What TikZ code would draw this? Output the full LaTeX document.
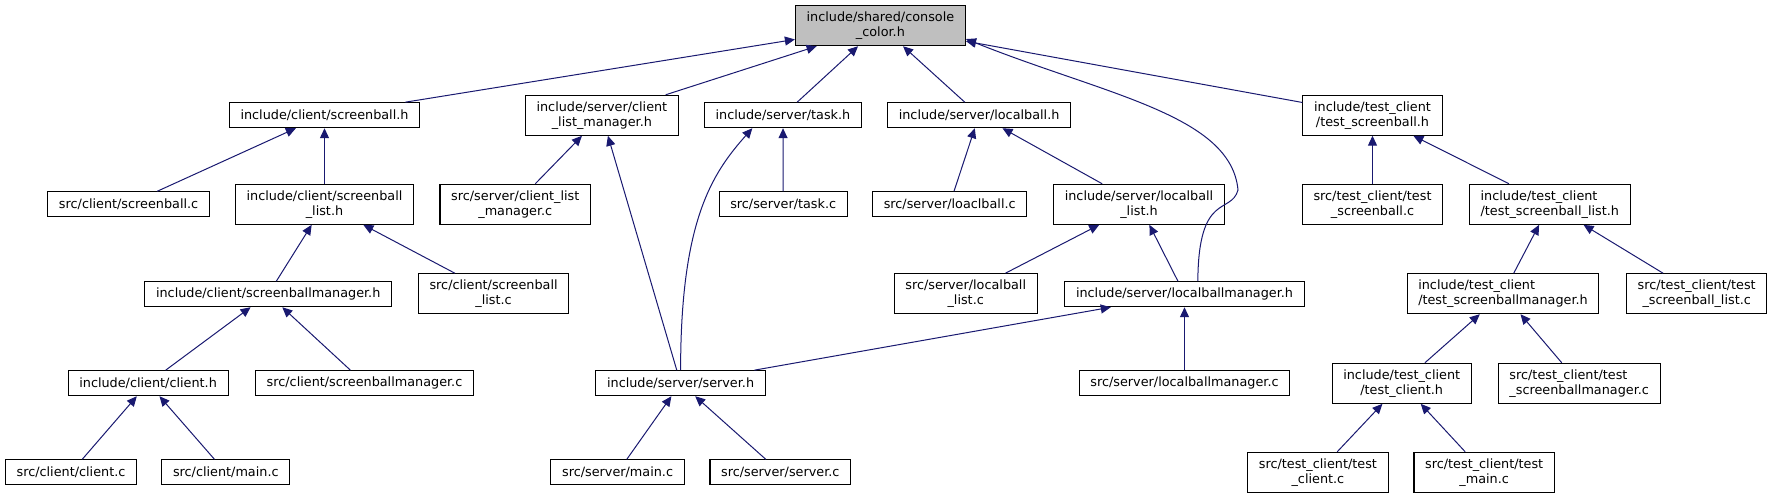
\documentclass[tikz,border=0pt]{standalone}
\usepackage{fontspec}
\setmainfont{DejaVu Sans}
\usetikzlibrary{arrows.meta}
\definecolor{edgeblue}{HTML}{191970}
\definecolor{rootgray}{HTML}{BFBFBF}

\begin{document}
\begin{tikzpicture}[x=0.75pt, y=-0.75pt,
    file/.style={draw=black, line width=0.8pt, fill=white, inner xsep=8.4pt,
                 inner ysep=1pt, minimum height=18.75pt, align=center,
                 font=\fontsize{9.6}{11.25}\selectfont},
    file2/.style={file, minimum height=30pt},
    dep/.style={-{Triangle[length=7.5pt, width=6.8pt]}, draw=edgeblue, line width=0.75pt},
]
    \useasboundingbox (0,0) rectangle (1773,499);

    % Root
    \node[file2, fill=rootgray] (root) at (880.4, 25.7) {include/shared/console\\\_color.h};

    % Row 1
    \node[file]  (sbh)   at (324.5, 115.2) {include/client/screenball.h};
    \node[file2] (clmh)  at (601.9, 115.3) {include/server/client\\\_list\_manager.h};
    \node[file]  (taskh) at (783.0, 115.2) {include/server/task.h};
    \node[file]  (lbh)   at (979.1, 115.2) {include/server/localball.h};
    \node[file2] (tsbh)  at (1372.5, 115.2) {include/test\_client\\/test\_screenball.h};

    % Row 2
    \node[file]  (sbc)   at (128.6, 204.3) {src/client/screenball.c};
    \node[file2] (sblh)  at (324.5, 204.3) {include/client/screenball\\\_list.h};
    \node[file2] (clmc)  at (515.3, 204.3) {src/server/client\_list\\\_manager.c};
    \node[file]  (taskc) at (783.2, 204.3) {src/server/task.c};
    \node[file]  (lbc)   at (949.7, 204.3) {src/server/loaclball.c};
    \node[file2] (lblh)  at (1139.0, 204.3) {include/server/localball\\\_list.h};
    \node[file2] (tsbc)  at (1372.5, 204.3) {src/test\_client/test\\\_screenball.c};
    \node[file2, align=left] (tsblh) at (1549.8, 204.3) {include/test\_client\\/test\_screenball\_list.h};

    % Row 3
    \node[file]  (sbmh)  at (268.2, 294.2) {include/client/screenballmanager.h};
    \node[file2] (sblc)  at (493.6, 293.7) {src/client/screenball\\\_list.c};
    \node[file2] (lblc)  at (965.7, 293.7) {src/server/localball\\\_list.c};
    \node[file]  (lbmh)  at (1184.5, 294.2) {include/server/localballmanager.h};
    \node[file2, align=left] (tsbmh) at (1503.0, 293.7) {include/test\_client\\/test\_screenballmanager.h};
    \node[file2] (tsblc) at (1696.7, 293.7) {src/test\_client/test\\\_screenball\_list.c};

    % Row 4
    \node[file]  (clh)   at (148.1, 383.2) {include/client/client.h};
    \node[file]  (sbmc)  at (364.5, 383.2) {src/client/screenballmanager.c};
    \node[file]  (srvh)  at (680.6, 383.2) {include/server/server.h};
    \node[file]  (lbmc)  at (1184.5, 383.2) {src/server/localballmanager.c};
    \node[file2] (tclh)  at (1401.7, 383.3) {include/test\_client\\/test\_client.h};
    \node[file2, align=left] (tsbmc) at (1579.2, 383.3) {src/test\_client/test\\\_screenballmanager.c};

    % Row 5
    \node[file]  (clc)     at (71.0, 472.3) {src/client/client.c};
    \node[file]  (clmain)  at (225.8, 472.3) {src/client/main.c};
    \node[file]  (srvmain) at (617.6, 472.3) {src/server/main.c};
    \node[file]  (srvc)    at (780.3, 472.3) {src/server/server.c};
    \node[file2] (tclc)    at (1317.9, 472.3) {src/test\_client/test\\\_client.c};
    \node[file2] (tmain)   at (1484.2, 472.3) {src/test\_client/test\\\_main.c};

    % Dependencies on the root
    \draw[dep] (sbh) -- (root);
    \draw[dep] (clmh) -- (root);
    \draw[dep] (taskh) -- (root);
    \draw[dep] (lbh) -- (root);
    \draw[dep] (tsbh) -- (root);
    \draw[dep] ([xshift=10pt]lbmh.north) .. controls +(0.5,-90) and +(-7,25) .. (1238,190)
        .. controls +(-7,-75) and +(140,56) .. ([yshift=-10pt]root.east);

    % Client side
    \draw[dep] (sbc) -- (sbh);
    \draw[dep] (sblh) -- (sbh);
    \draw[dep] (sbmh) -- (sblh);
    \draw[dep] (sblc) -- (sblh);
    \draw[dep] (clh) -- (sbmh);
    \draw[dep] (sbmc) -- (sbmh);
    \draw[dep] (clc) -- (clh);
    \draw[dep] (clmain) -- (clh);

    % Server side
    \draw[dep] (clmc) -- (clmh);
    \draw[dep] (srvh) -- (clmh);
    \draw[dep] (srvh.north) .. controls +(0,-150) and +(-40,45) .. ([xshift=-23pt]taskh.south);
    \draw[dep] (taskc) -- (taskh);
    \draw[dep] (lbc) -- (lbh);
    \draw[dep] (lblh) -- (lbh);
    \draw[dep] (lblc) -- (lblh);
    \draw[dep] (lbmh) -- (lblh);
    \draw[dep] (srvh) -- (lbmh);
    \draw[dep] (lbmc) -- (lbmh);
    \draw[dep] (srvmain) -- (srvh);
    \draw[dep] (srvc) -- (srvh);

    % Test client side
    \draw[dep] (tsbc) -- (tsbh);
    \draw[dep] (tsblh) -- (tsbh);
    \draw[dep] (tsbmh) -- (tsblh);
    \draw[dep] (tsblc) -- (tsblh);
    \draw[dep] (tclh) -- (tsbmh);
    \draw[dep] (tsbmc) -- (tsbmh);
    \draw[dep] (tclc) -- (tclh);
    \draw[dep] (tmain) -- (tclh);
\end{tikzpicture}
\end{document}
